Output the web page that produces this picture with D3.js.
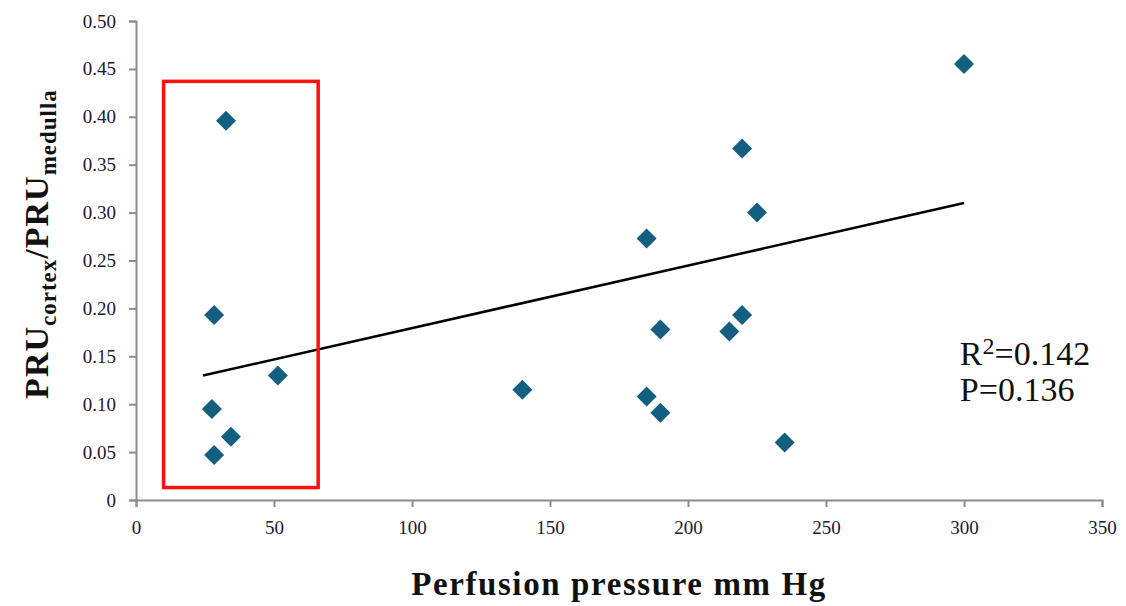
<!DOCTYPE html>
<html>
<head>
<meta charset="utf-8">
<script src="https://cdn.jsdelivr.net/npm/d3@7"></script>
<style>
  body { margin: 0; background: #fff; }
  svg { display: block; }
  .tick text { font-family: 'Liberation Serif', serif; font-size: 19px; fill: #1a1a2e; }
  .axis path, .axis line { stroke: #8c8c8c; stroke-width: 2px; }
</style>
</head>
<body>
<svg id="chart" width="1126" height="606"></svg>
<script>
// perfusion pressure (mm Hg) and PRU cortex/medulla ratio
const pressure = [32.6, 28.3, 27.5, 34.4, 28.3, 51.4, 140, 185, 185, 190, 190, 215, 219.6, 219.6, 225, 235, 300]
const ratio = [0.396, 0.193, 0.095, 0.066, 0.047, 0.130, 0.115, 0.273, 0.108, 0.178, 0.091, 0.176, 0.193, 0.367, 0.300, 0.060, 0.455]

// fitted trend line end points
const trendX = [24.3, 300]
const trendY = [0.13, 0.31]

// highlighted box (data units)
const boxX = [10, 66]
const boxY = [0.013, 0.437]

const xTicks = [0, 50, 100, 150, 200, 250, 300, 350]
const yTicks = [0, 0.05, 0.10, 0.15, 0.20, 0.25, 0.30, 0.35, 0.40, 0.45, 0.50]
const stats = [{ label: 'R', sup: '2', value: '=0.142' }, { label: 'P', sup: '', value: '=0.136' }]

const svg = d3.select('#chart')
const margin = { left: 136, top: 21, right: 24, bottom: 106 }
const width = 1126 - margin.left - margin.right
const height = 606 - margin.top - margin.bottom

const g = svg.append('g').attr('transform', `translate(${margin.left},${margin.top})`)

const x = d3.scaleLinear().domain([0, 350]).range([0, width])
const y = d3.scaleLinear().domain([0, 0.5]).range([height, 0])

g.append('g')
  .attr('class', 'axis')
  .attr('transform', `translate(0,${height})`)
  .call(d3.axisBottom(x).tickValues(xTicks).tickSize(7).tickPadding(14).tickFormat(d3.format('d')))

g.append('g')
  .attr('class', 'axis')
  .call(d3.axisLeft(y).tickValues(yTicks).tickSize(7).tickPadding(13)
    .tickFormat(d => d === 0 ? '0' : d3.format('.2f')(d)))

// trend line
const line = d3.line().x(d => x(d[0])).y(d => y(d[1]))
g.append('path')
  .datum(d3.zip(trendX, trendY))
  .attr('d', line)
  .attr('fill', 'none')
  .attr('stroke', '#000')
  .attr('stroke-width', 2.5)

// diamonds
const diamond = d3.symbol().type(d3.symbolSquare).size(200)
g.selectAll('.pt')
  .data(d3.zip(pressure, ratio))
  .join('path')
  .attr('class', 'pt')
  .attr('d', diamond)
  .attr('transform', d => `translate(${x(d[0])},${y(d[1])}) rotate(45)`)
  .attr('fill', '#135f80')

// red box
g.append('rect')
  .attr('x', x(boxX[0]))
  .attr('y', y(boxY[1]))
  .attr('width', x(boxX[1]) - x(boxX[0]))
  .attr('height', y(boxY[0]) - y(boxY[1]))
  .attr('fill', 'none')
  .attr('stroke', '#ff1010')
  .attr('stroke-width', 3.5)

// stats text
stats.forEach((s, i) => {
  const t = g.append('text')
    .attr('x', x(298.5))
    .attr('y', y(0.142) + 1 + i * 36)
    .attr('font-family', "'Liberation Serif', serif")
    .attr('font-size', 34)
    .attr('fill', '#111')
  t.append('tspan').text(s.label)
  if (s.sup) {
    t.append('tspan').attr('font-size', 24).attr('dy', -11).text(s.sup)
    t.append('tspan').attr('dy', 11).text(s.value)
  } else {
    t.append('tspan').text(s.value)
  }
})

// axis titles
svg.append('text')
  .attr('x', margin.left + x(175))
  .attr('y', 595)
  .attr('text-anchor', 'middle')
  .attr('font-family', "'Liberation Serif', serif")
  .attr('font-weight', 'bold')
  .attr('font-size', 33)
  .attr('letter-spacing', 1.6)
  .attr('fill', '#111')
  .text('Perfusion pressure mm Hg')

const yl = svg.append('text')
  .attr('transform', `translate(48,244) rotate(-90)`)
  .attr('text-anchor', 'middle')
  .attr('font-family', "'Liberation Serif', serif")
  .attr('font-weight', 'bold')
  .attr('font-size', 34)
  .attr('letter-spacing', 1)
  .attr('fill', '#111')
yl.append('tspan').text('PRU')
yl.append('tspan').attr('font-size', 23).attr('dy', 8).text('cortex')
yl.append('tspan').attr('dy', -8).text('/PRU')
yl.append('tspan').attr('font-size', 23).attr('dy', 8).text('medulla')
</script>
</body>
</html>
